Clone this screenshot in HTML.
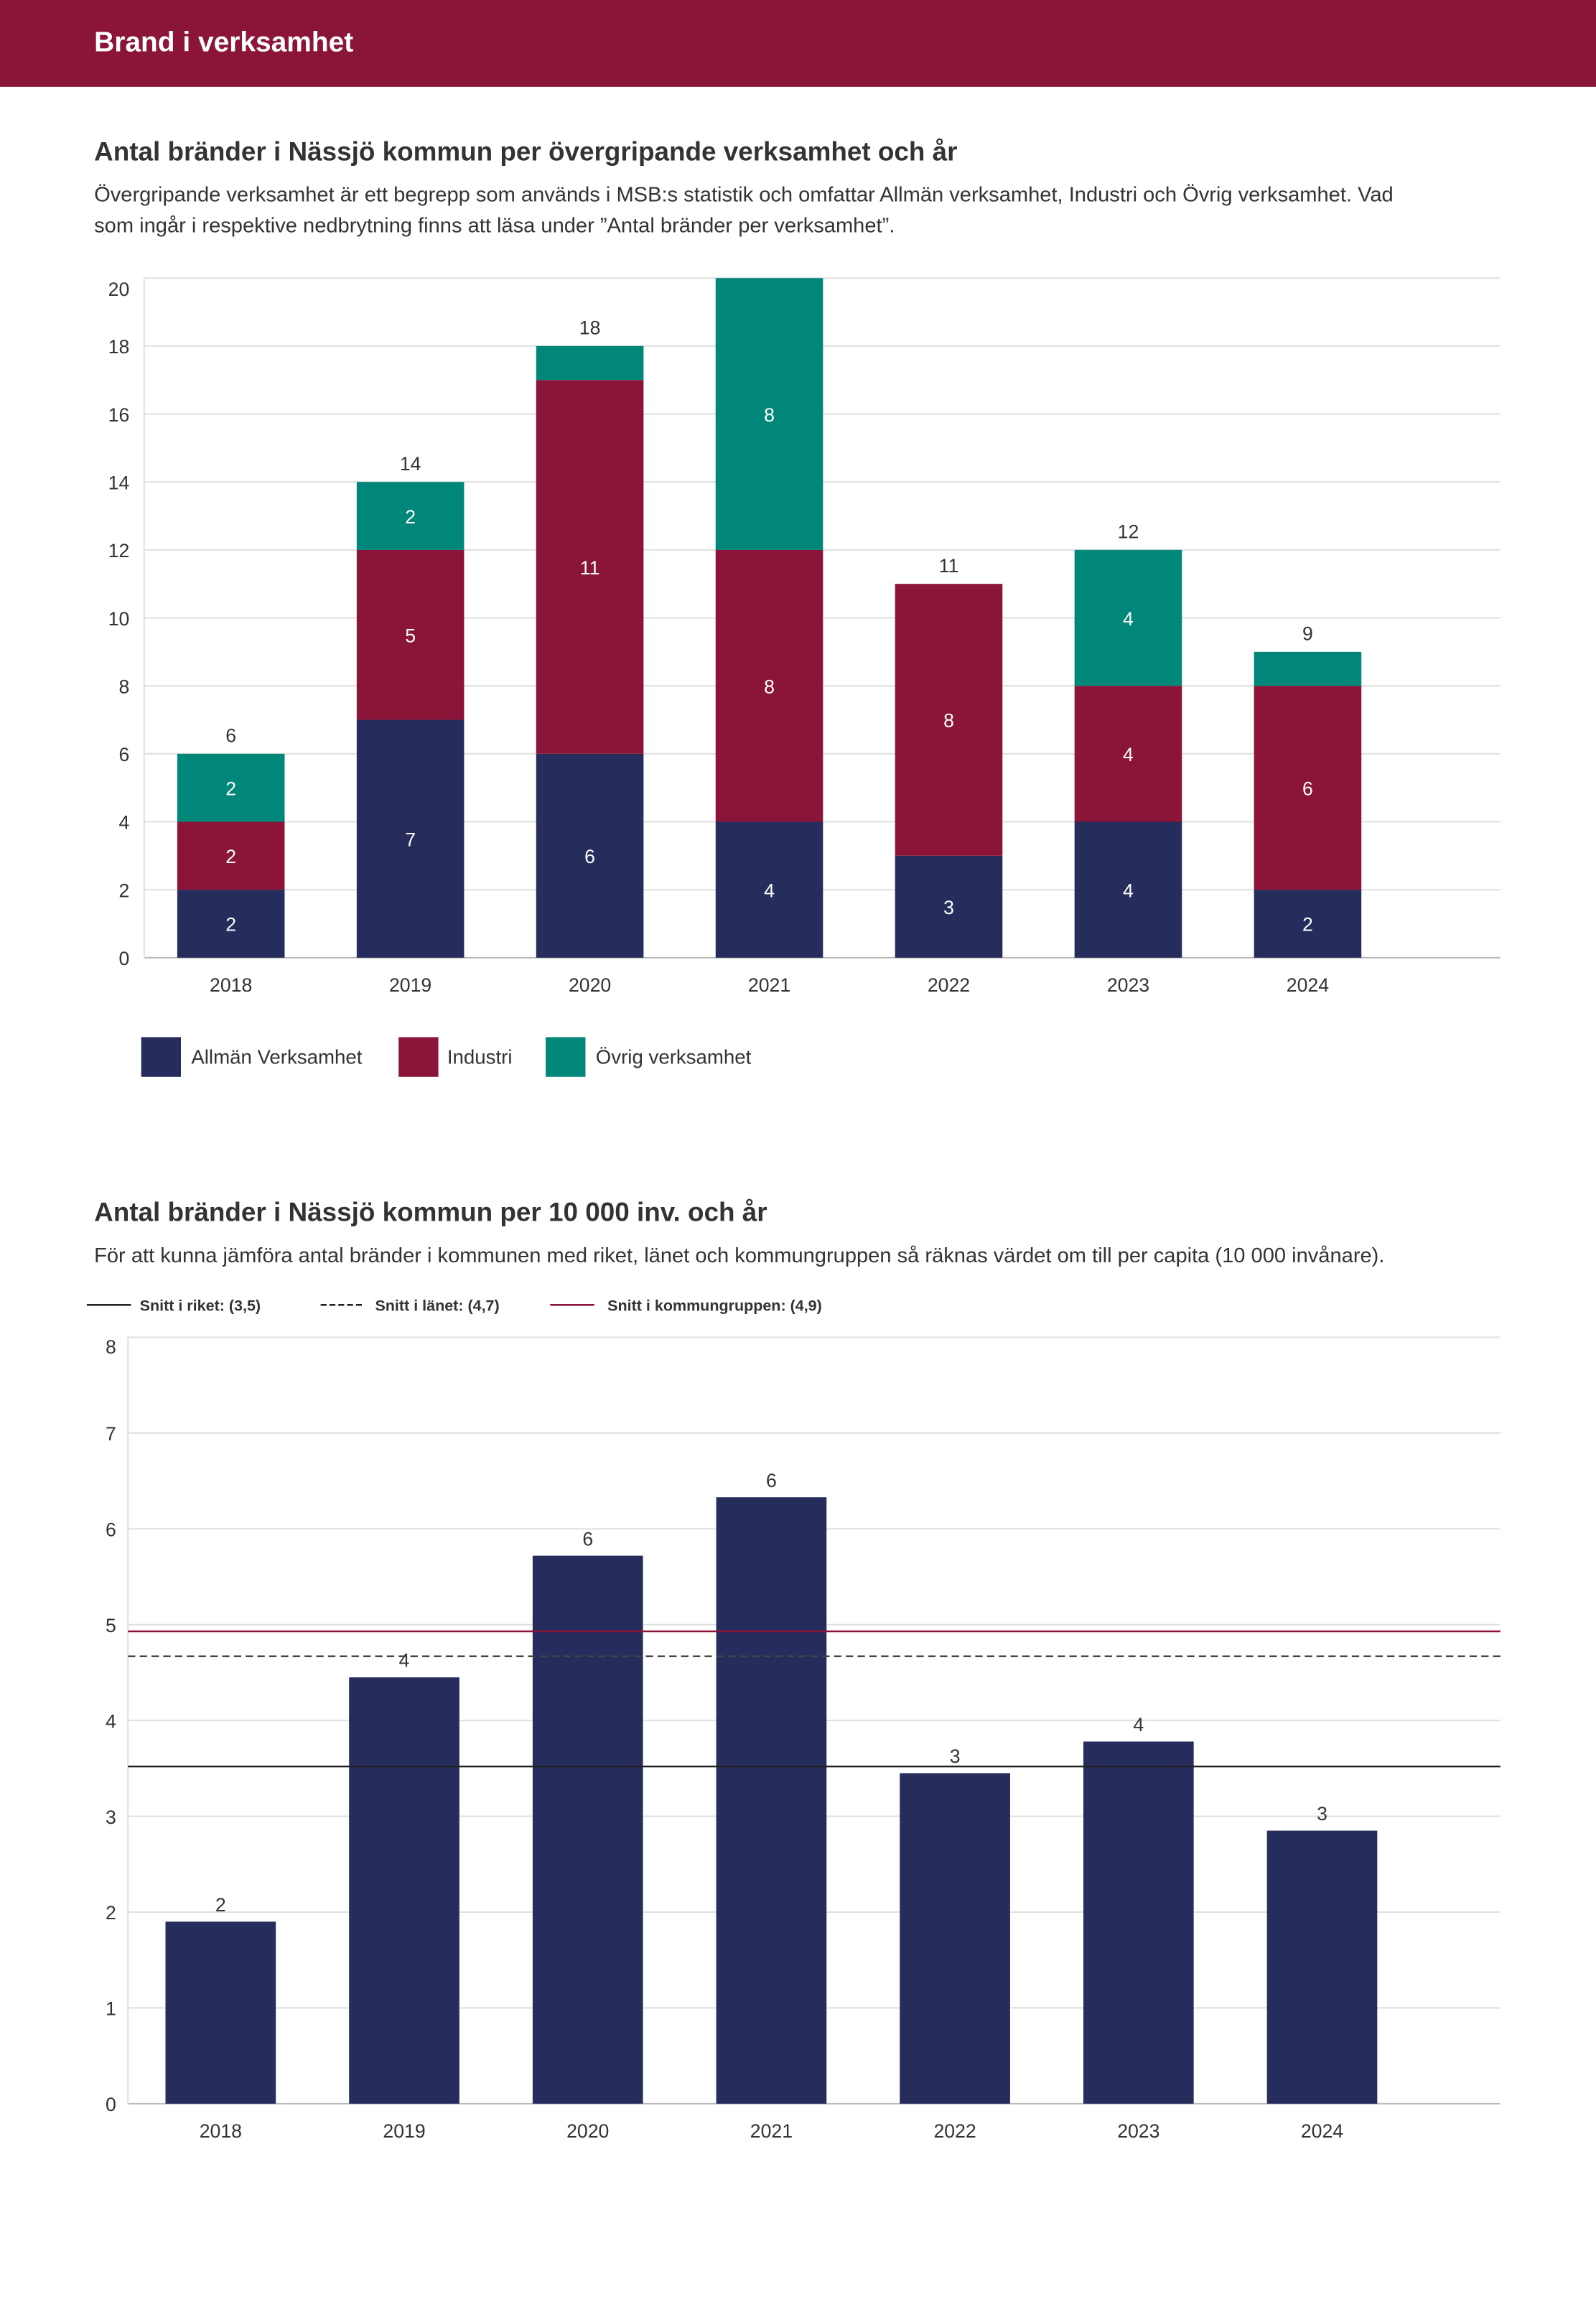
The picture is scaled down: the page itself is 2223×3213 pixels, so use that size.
<!DOCTYPE html>
<html><head><meta charset="utf-8"><style>
html,body{margin:0;padding:0;background:#fff}
svg{display:block}
text{font-family:"Liberation Sans",sans-serif;fill:#333}
</style></head><body>
<svg id="root" width="2223" height="3213" viewBox="0 0 1085 1568.2" xmlns="http://www.w3.org/2000/svg">
<rect x="0" y="0" width="1085" height="59" fill="#8b1538"/>
<text x="64" y="35" font-size="19" font-weight="bold" style="fill:#fff">Brand i verksamhet</text>
<text x="64" y="109" font-size="18" font-weight="bold" style="fill:#333">Antal bränder i Nässjö kommun per övergripande verksamhet och år</text>
<text x="64" y="137" font-size="14.2">Övergripande verksamhet är ett begrepp som används i MSB:s statistik och omfattar Allmän verksamhet, Industri och Övrig verksamhet. Vad</text>
<text x="64" y="158" font-size="14.2">som ingår i respektive nedbrytning finns att läsa under ”Antal bränder per verksamhet”.</text>
<g id="c1"></g>
<g>
<rect x="96" y="705" width="27" height="27" fill="#262d5c"/>
<text x="130" y="723" font-size="13.5">Allmän Verksamhet</text>
<rect x="271" y="705" width="27" height="27" fill="#8b1538"/>
<text x="304" y="723" font-size="13.5">Industri</text>
<rect x="371" y="705" width="27" height="27" fill="#00877a"/>
<text x="405" y="723" font-size="13.5">Övrig verksamhet</text>
</g>
<text x="64" y="830" font-size="18" font-weight="bold">Antal bränder i Nässjö kommun per 10 000 inv. och år</text>
<text x="64" y="858" font-size="14.2">För att kunna jämföra antal bränder i kommunen med riket, länet och kommungruppen så räknas värdet om till per capita (10 000 invånare).</text>
<g>
<line x1="59" x2="89" y1="887" y2="887" stroke="#222" stroke-width="1.3"/>
<text x="95" y="891" font-size="10.5" font-weight="bold">Snitt i riket: (3,5)</text>
<line x1="218" x2="248" y1="887" y2="887" stroke="#222" stroke-width="1.3" stroke-dasharray="4,2"/>
<text x="255" y="891" font-size="10.5" font-weight="bold">Snitt i länet: (4,7)</text>
<line x1="374" x2="404" y1="887" y2="887" stroke="#8b1538" stroke-width="1.3"/>
<text x="413" y="891" font-size="10.5" font-weight="bold">Snitt i kommungruppen: (4,9)</text>
</g>
<g id="c2"></g>
</svg>
<script>
const years = ["2018","2019","2020","2021","2022","2023","2024"];
const allman = [2,7,6,4,3,4,2];
const industri = [2,5,11,8,8,4,6];
const ovrig = [2,2,1,8,0,4,1];
const yTicks1 = [0,2,4,6,8,10,12,14,16,18,20];
const perCapita = [1.9,4.45,5.72,6.33,3.45,3.78,2.85];
const perCapitaLabels = ["2","4","6","6","3","4","3"];
const yTicks2 = [0,1,2,3,4,5,6,7,8];
const avgRiket = 3.52;
const avgLanet = 4.67;
const avgKommungrupp = 4.93;

const NS="http://www.w3.org/2000/svg";
function mk(parent,tag,attrs,txt){const e=document.createElementNS(NS,tag);for(const k in attrs)e.setAttribute(k,attrs[k]);if(txt!==undefined)e.textContent=txt;parent.appendChild(e);return e;}

// Chart 1
(function(){
const g=document.getElementById('c1');
const L=98,R=1020,y0=651,y1=189,max=20;
const y=v=>y0-(v/max)*(y0-y1);
const step=122,first=157,bw=73;
const x=i=>first+i*step;
yTicks1.forEach(t=>{
 const ln=mk(g,'line',{x1:L,x2:R,y1:y(t),y2:y(t),stroke:t===0?'#bbb':'#e0e0e0','stroke-width':1});
 
 
 const ty=t===max?y(t)+12:y(t)+5;
 const tx=mk(g,'text',{x:88,y:ty,'text-anchor':'end','font-size':13},String(t));
 
 
});
const ax=mk(g,'line',{x1:L,x2:L,y1:y1,y2:y0,stroke:'#e0e0e0'});


const series=[[allman,'#262d5c','allman'],[industri,'#8b1538','industri'],[ovrig,'#00877a','ovrig']];
years.forEach((yr,i)=>{
 let base=0;
 series.forEach(([arr,col,nm])=>{
  const v=arr[i]; if(!v){return;}
  const r=mk(g,'rect',{x:x(i)-bw/2,y:y(base+v),width:bw,height:y(base)-y(base+v),fill:col});
  
  
  if(v>1){
   const t=mk(g,'text',{x:x(i),y:(y(base)+y(base+v))/2+5,'text-anchor':'middle','font-size':13,style:'fill:#fff'},String(v));
   
   
  }
  base+=v;
 });
 if(base<max){
  const tot=mk(g,'text',{x:x(i),y:y(base)-8,'text-anchor':'middle','font-size':13},String(base));
  
  
 }
 const xl=mk(g,'text',{x:x(i),y:674,'text-anchor':'middle','font-size':13},yr);
 
 
});
})();

// Chart 2
(function(){
const g=document.getElementById('c2');
const L=87,R=1020,y0=1430,y1=909,max=8;
const y=v=>y0-(v/max)*(y0-y1);
const step=124.8,first=150,bw=75;
const x=i=>first+i*step;
yTicks2.forEach(t=>{
 const ln=mk(g,'line',{x1:L,x2:R,y1:y(t),y2:y(t),stroke:t===0?'#bbb':'#e0e0e0','stroke-width':1});
 
 
 const ty=t===max?y(t)+11:y(t)+5;
 const tx=mk(g,'text',{x:79,y:ty,'text-anchor':'end','font-size':13},String(t));
 
 
});
const ax=mk(g,'line',{x1:L,x2:L,y1:y1,y2:y0,stroke:'#e0e0e0'});


years.forEach((yr,i)=>{
 const v=perCapita[i];
 const r=mk(g,'rect',{x:x(i)-bw/2,y:y(v),width:bw,height:y0-y(v),fill:'#262d5c'});
 
 
 const t=mk(g,'text',{x:x(i),y:y(v)-7,'text-anchor':'middle','font-size':13},perCapitaLabels[i]);
 
 
 const xl=mk(g,'text',{x:x(i),y:1453,'text-anchor':'middle','font-size':13},yr);
 
 
});
const l1=mk(g,'line',{x1:L,x2:R,y1:y(avgRiket),y2:y(avgRiket),stroke:'#222','stroke-width':1.2});


const l2=mk(g,'line',{x1:L,x2:R,y1:y(avgLanet),y2:y(avgLanet),stroke:'#444','stroke-width':1.2,'stroke-dasharray':'5,3'});


const l3=mk(g,'line',{x1:L,x2:R,y1:y(avgKommungrupp),y2:y(avgKommungrupp),stroke:'#8b1538','stroke-width':1.2});


})();
</script>
</body></html>
